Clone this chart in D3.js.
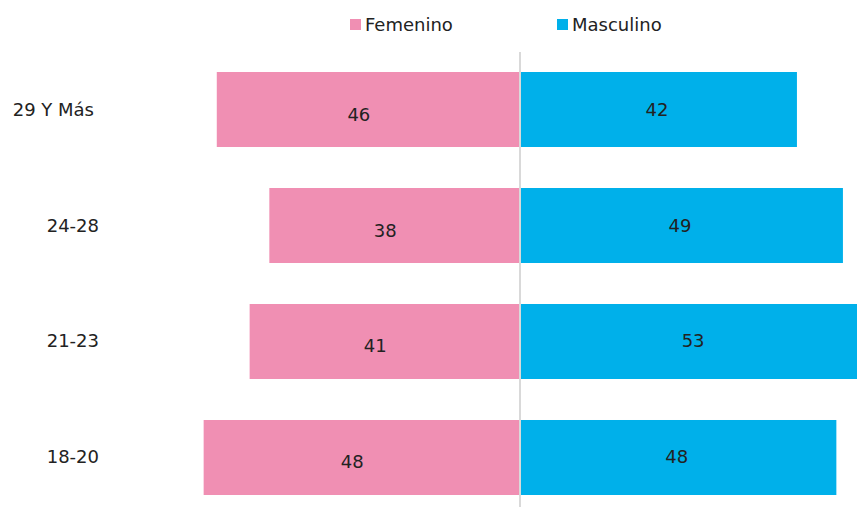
<!DOCTYPE html>
<html>
<head>
<meta charset="utf-8">
<script src="https://cdn.jsdelivr.net/npm/d3@7"></script>
<style>
  body { margin: 0; background: #fff; overflow: hidden; }
  text { font-family: "DejaVu Sans", sans-serif; fill: #222; }
</style>
</head>
<body>
<script>
// data
let categories = ['29 Y Más', '24-28', '21-23', '18-20'];
let femenino = [46, 38, 41, 48];
let masculino = [42, 49, 53, 48];
let seriesNames = ['Femenino', 'Masculino'];
let colors = ['#F08FB3', '#00B0EA'];

let width = 857;
let height = 507;
let center = 520;
let pxPerUnit = 6.57;
let fontSize = '18px';

let svg = d3.select('body').append('svg')
   .attr('width', width)
   .attr('height', height);

// scales
let xF = d3.scaleLinear().domain([0, 60]).range([center - 1, center - 1 - 60 * pxPerUnit]);
let xM = d3.scaleLinear().domain([0, 60]).range([center + 1, center + 1 + 60 * pxPerUnit]);
let y = d3.scaleBand().domain(categories).range([72, 495]).paddingInner(0.3534).paddingOuter(0);

// center line
svg.append('line')
   .attr('x1', center).attr('x2', center)
   .attr('y1', 52).attr('y2', height)
   .attr('stroke', '#d9d9d9')
   .attr('stroke-width', 2);

// female bars
svg.selectAll('.bar-f')
   .data(categories)
   .enter()
   .append('rect')
   .attr('class', 'bar-f')
   .attr('x', (d, i) => xF(femenino[i]))
   .attr('y', (d) => y(d))
   .attr('width', (d, i) => xF(0) - xF(femenino[i]))
   .attr('height', y.bandwidth())
   .attr('fill', colors[0]);

// male bars
svg.selectAll('.bar-m')
   .data(categories)
   .enter()
   .append('rect')
   .attr('class', 'bar-m')
   .attr('x', xM(0))
   .attr('y', (d) => y(d))
   .attr('width', (d, i) => xM(masculino[i]) - xM(0))
   .attr('height', y.bandwidth())
   .attr('fill', colors[1]);

// value labels
svg.selectAll('.lab-f')
   .data(categories)
   .enter()
   .append('text')
   .attr('x', (d, i) => (xF(femenino[i]) + xF(0)) / 2 - 9)
   .attr('y', (d) => y(d) + y.bandwidth() / 2 + 6)
   .attr('text-anchor', 'middle')
   .attr('dominant-baseline', 'middle')
   .attr('font-size', fontSize)
   .text((d, i) => femenino[i]);

svg.selectAll('.lab-m')
   .data(categories)
   .enter()
   .append('text')
   .attr('x', (d, i) => (xM(masculino[i]) + xM(0)) / 2 - 2)
   .attr('y', (d) => y(d) + y.bandwidth() / 2 + 1)
   .attr('text-anchor', 'middle')
   .attr('dominant-baseline', 'middle')
   .attr('font-size', fontSize)
   .text((d, i) => masculino[i]);

// category labels
svg.selectAll('.cat')
   .data(categories)
   .enter()
   .append('text')
   .attr('x', (d, i) => i === 0 ? 94 : 99)
   .attr('y', (d) => y(d) + y.bandwidth() / 2 + 1)
   .attr('text-anchor', 'end')
   .attr('dominant-baseline', 'middle')
   .attr('font-size', fontSize)
   .text((d) => d);

// legend
let legendX = [350, 557];
let legend = svg.selectAll('.legend')
   .data(seriesNames)
   .enter()
   .append('g')
   .attr('transform', (d, i) => 'translate(' + legendX[i] + ',19)');
legend.append('rect')
   .attr('width', 11)
   .attr('height', 11)
   .attr('fill', (d, i) => colors[i]);
legend.append('text')
   .attr('x', 15)
   .attr('y', 6.5)
   .attr('dominant-baseline', 'middle')
   .attr('font-size', fontSize)
   .text((d) => d);
</script>
</body>
</html>
